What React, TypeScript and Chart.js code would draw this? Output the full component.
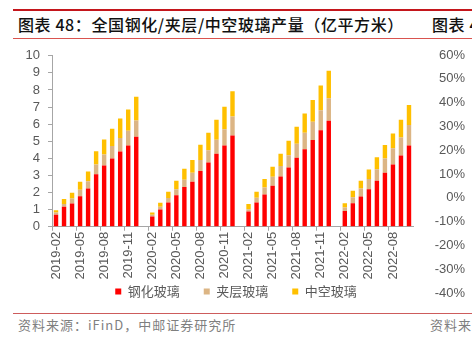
import React, { useEffect, useRef } from "react";
import { Chart, registerables } from "chart.js";

Chart.register(...registerables);

const categories = [
  "2019-02", "2019-03", "2019-04", "2019-05", "2019-06", "2019-07", "2019-08", "2019-09", "2019-10", "2019-11", "2019-12",
  "2020-01", "2020-02", "2020-03", "2020-04", "2020-05", "2020-06", "2020-07", "2020-08", "2020-09", "2020-10", "2020-11", "2020-12",
  "2021-01", "2021-02", "2021-03", "2021-04", "2021-05", "2021-06", "2021-07", "2021-08", "2021-09", "2021-10", "2021-11", "2021-12",
  "2022-01", "2022-02", "2022-03", "2022-04", "2022-05", "2022-06", "2022-07", "2022-08", "2022-09", "2022-10",
];

const temperedGlass = [
  0.70, 1.17, 1.36, 1.79, 2.24, 3.08, 3.59, 4.00, 4.41, 4.76, 5.26,
  null, 0.60, 1.01, 1.42, 1.85, 2.32, 2.63, 3.27, 3.76, 4.27, 4.76, 5.34,
  null, 0.90, 1.42, 1.89, 2.40, 2.94, 3.47, 4.04, 4.54, 5.07, 5.65, 6.20,
  null, 0.92, 1.38, 1.77, 2.20, 2.69, 3.16, 3.65, 4.17, 4.76,
];

const laminatedGlass = [
  0.14, 0.16, 0.30, 0.37, 0.43, 0.57, 0.64, 0.72, 0.78, 0.85, 0.96,
  null, 0.10, 0.16, 0.26, 0.35, 0.43, 0.53, 0.63, 0.72, 0.82, 0.95, 1.11,
  null, 0.13, 0.28, 0.41, 0.52, 0.61, 0.72, 0.81, 0.96, 1.07, 1.17, 1.32,
  null, 0.21, 0.35, 0.47, 0.59, 0.68, 0.83, 0.95, 1.05, 1.19,
];

const insulatingGlass = [
  0.13, 0.29, 0.33, 0.47, 0.57, 0.77, 0.88, 1.01, 1.15, 1.25, 1.38,
  null, 0.14, 0.23, 0.37, 0.49, 0.64, 0.74, 0.90, 1.02, 1.17, 1.31, 1.48,
  null, 0.30, 0.35, 0.49, 0.59, 0.72, 0.84, 1.00, 1.13, 1.27, 1.45, 1.60,
  null, 0.25, 0.38, 0.45, 0.56, 0.70, 0.79, 0.86, 1.04, 1.17,
];

const seriesNames = ["钢化玻璃", "夹层玻璃", "中空玻璃"];
const seriesColors = ["#FF0000", "#DCB584", "#FFC000"];

const leftAxisMin = 0;
const leftAxisMax = 10;
const leftAxisStep = 1;
const rightAxisMin = -40;
const rightAxisMax = 60;
const rightAxisStep = 10;

const numFont = "'Liberation Sans', Arial, Helvetica, sans-serif";
const cjkFont = "'Noto Sans CJK SC', 'Liberation Sans', sans-serif";
const axisGrey = "#A6A6A6";
const labelGrey = "#595959";

export default function App() {
  const mainRef = useRef<HTMLCanvasElement | null>(null);
  const rightRef = useRef<HTMLCanvasElement | null>(null);

  useEffect(() => {
    if (!mainRef.current || !rightRef.current) return;
    const baseGen = (Chart as any).defaults.plugins.legend.labels.generateLabels;
    const main = new Chart(mainRef.current, {
      type: "bar",
      data: {
        labels: categories,
        datasets: [
          { label: seriesNames[0], data: temperedGlass, backgroundColor: seriesColors[0], yAxisID: "y" },
          { label: seriesNames[1], data: laminatedGlass, backgroundColor: seriesColors[1], yAxisID: "y" },
          { label: seriesNames[2], data: insulatingGlass, backgroundColor: seriesColors[2], yAxisID: "y" },
        ],
      },
      options: {
        animation: false,
        responsive: false,
        maintainAspectRatio: false,
        datasets: { bar: { barPercentage: 0.55, categoryPercentage: 1 } },
        layout: { padding: { top: 15, left: 0, right: 0, bottom: 0 } },
        plugins: {
          tooltip: { enabled: false },
          legend: {
            position: "bottom",
            labels: {
              boxWidth: 6,
              boxHeight: 6,
              padding: 4.5,
              color: labelGrey,
              font: { family: cjkFont, size: 13 },
              generateLabels: (chart: any) => {
                const items = baseGen(chart);
                return items.map((it: any, i: number) =>
                  i < items.length - 1 ? { ...it, text: it.text + "\u3000\u2002" } : it
                );
              },
            },
          },
        },
        scales: {
          x: {
            stacked: true,
            offset: true,
            grid: {
              drawOnChartArea: false,
              drawTicks: true,
              tickLength: 4,
              color: (ctx: any) => (ctx.index % 3 === 0 ? axisGrey : "rgba(0,0,0,0)"),
            },
            border: { display: true, color: axisGrey, width: 1 },
            ticks: {
              autoSkip: false,
              maxRotation: 90,
              minRotation: 90,
              padding: 1,
              color: labelGrey,
              font: { family: numFont, size: 13 },
              callback: (_v: any, i: number) => (i % 3 === 0 ? categories[i] : ""),
            },
          },
          y: {
            stacked: true,
            position: "left",
            min: leftAxisMin,
            max: leftAxisMax,
            grid: { drawOnChartArea: false, drawTicks: true, tickLength: 4, color: axisGrey },
            border: { display: true, color: axisGrey, width: 1 },
            ticks: {
              autoSkip: false,
              stepSize: leftAxisStep,
              padding: 8,
              color: labelGrey,
              font: { family: numFont, size: 13 },
            },
            afterFit: (s: any) => {
              s.width = 52;
            },
          },
          yR: {
            position: "right",
            display: true,
            grid: { display: false },
            border: { display: false },
            ticks: { display: false },
            afterFit: (s: any) => {
              s.width = 59;
            },
          },
        },
      },
    });

    const right = new Chart(rightRef.current, {
      type: "bar",
      data: { labels: [], datasets: [] },
      options: {
        animation: false,
        responsive: false,
        maintainAspectRatio: false,
        layout: { padding: { top: 15, bottom: 12, left: 0, right: 0 } },
        plugins: { legend: { display: false }, tooltip: { enabled: false } },
        scales: {
          x: { display: false },
          y: {
            position: "left",
            min: rightAxisMin,
            max: rightAxisMax,
            grid: { display: false, drawTicks: false },
            border: { display: false },
            ticks: {
              stepSize: rightAxisStep,
              padding: 3,
              color: labelGrey,
              font: { family: numFont, size: 13 },
              callback: (v: any) => `${v}%`,
            },
            afterFit: (s: any) => {
              s.width = 68;
            },
          },
        },
      },
    });

    return () => {
      main.destroy();
      right.destroy();
    };
  }, []);

  const titleStyle: React.CSSProperties = {
    position: "absolute",
    top: 15,
    fontFamily: cjkFont,
    fontSize: 16,
    fontWeight: 500,
    letterSpacing: "0.6px",
    lineHeight: "18px",
    color: "#111",
    whiteSpace: "nowrap",
  };
  const footStyle: React.CSSProperties = {
    position: "absolute",
    top: 317,
    fontFamily: cjkFont,
    fontSize: 13,
    letterSpacing: "1px",
    lineHeight: "16px",
    color: "#7F7F7F",
    whiteSpace: "nowrap",
  };

  return (
    <div
      style={{
        position: "absolute",
        left: 0,
        top: 0,
        width: 472,
        height: 350,
        overflow: "hidden",
        background: "#fff",
      }}
    >
      <div style={{ position: "absolute", left: 13, top: 9, width: 459, height: 2, background: "#C4161C" }} />
      <div style={{ ...titleStyle, left: 18 }}>图表 48：全国钢化/夹层/中空玻璃产量（亿平方米）</div>
      <div style={{ ...titleStyle, left: 432 }}>图表 49：全国玻璃产量</div>
      <div style={{ position: "absolute", left: 13, top: 38, width: 459, height: 1, background: "#D9534F" }} />

      <canvas
        ref={mainRef}
        width={472}
        height={268}
        style={{ position: "absolute", left: 0, top: 40, width: 472, height: 268 }}
      />
      <canvas
        ref={rightRef}
        width={72}
        height={265}
        style={{ position: "absolute", left: 400, top: 40, width: 72, height: 265 }}
      />

      <div style={{ position: "absolute", left: 13, top: 313, width: 459, height: 1, background: "#CD5C5C" }} />
      <div style={{ ...footStyle, left: 18 }}>资料来源：iFinD，中邮证券研究所</div>
      <div style={{ ...footStyle, left: 430 }}>资料来源：iFinD</div>
    </div>
  );
}
